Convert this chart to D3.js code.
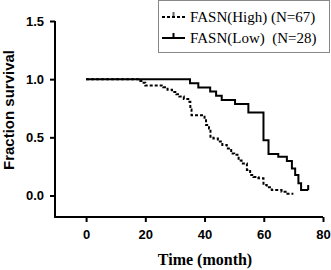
<!DOCTYPE html>
<html>
<head>
<meta charset="utf-8">
<script src="https://cdn.jsdelivr.net/npm/d3@7"></script>
<style>
  body { margin: 0; background: #fff; }
  svg { display: block; }
  .legend text { white-space: pre; }
</style>
</head>
<body>
<svg id="chart" width="331" height="270"></svg>
<script>
// Kaplan-Meier steps
var highTimes = [0, 17.5, 19, 20, 26, 27.5, 29, 30.5, 31.5, 33, 34.5, 35.2, 35.6, 40, 40.5, 41.5, 42, 43, 44.5, 46, 47.5, 49, 50, 51.5, 52.5, 54.3, 55.4, 56.5, 58.2, 59.9, 61, 62.7, 66, 68, 70];
var highSurv  = [1.0, 0.985, 0.97, 0.945, 0.93, 0.91, 0.89, 0.87, 0.85, 0.83, 0.805, 0.74, 0.69, 0.66, 0.605, 0.575, 0.505, 0.49, 0.465, 0.435, 0.405, 0.36, 0.35, 0.30, 0.276, 0.22, 0.176, 0.16, 0.148, 0.09, 0.07, 0.047, 0.033, 0.015, 0.015];
var lowTimes  = [0, 35.1, 37.9, 41.9, 43.9, 45.8, 50.3, 54.8, 59.9, 61.6, 64.9, 67.8, 69.5, 70.6, 71.7, 72.6, 75];
var lowSurv   = [1.0, 0.964, 0.929, 0.893, 0.857, 0.821, 0.786, 0.714, 0.476, 0.357, 0.333, 0.296, 0.233, 0.176, 0.105, 0.047, 0.047];
var lowCensor = [75];

var xTicks = [0, 20, 40, 60, 80];
var yTicks = [0.0, 0.5, 1.0, 1.5];
var legendLabels = ["FASN(High) (N=67)", "FASN(Low)  (N=28)"];

var svg = d3.select("#chart");

var x = d3.scaleLinear().domain([-10.5, 80]).range([55, 323]);
var y = d3.scaleLinear().domain([0, 1.5]).range([195.5, 21]);

// axes
var xAxis = svg.append("g").attr("transform", "translate(0,217)")
  .call(d3.axisBottom(x).tickValues(xTicks).tickSize(5).tickPadding(8).tickFormat(d3.format("d")));
xAxis.select(".domain").attr("d", "M55,0H323");

var yAxis = svg.append("g").attr("transform", "translate(55,0)")
  .call(d3.axisLeft(y).tickValues(yTicks).tickSize(5).tickPadding(6).tickFormat(d3.format(".1f")));
yAxis.select(".domain").attr("d", "M0,21V218");

svg.selectAll(".domain").attr("stroke", "#000").attr("stroke-width", 2);
svg.selectAll(".tick line").attr("stroke", "#000").attr("stroke-width", 2);
svg.selectAll(".tick text")
  .style("font-family", "'Liberation Sans', Arial, sans-serif")
  .style("font-weight", "bold")
  .style("font-size", "13px")
  .attr("fill", "#000");

// titles
svg.append("text")
  .attr("transform", "translate(14,110) rotate(-90)")
  .attr("text-anchor", "middle")
  .style("font-family", "'Liberation Sans', Arial, sans-serif")
  .style("font-weight", "bold")
  .style("font-size", "15px")
  .text("Fraction survival");

svg.append("text")
  .attr("x", 205).attr("y", 265)
  .attr("text-anchor", "middle")
  .style("font-family", "'Liberation Serif', 'Times New Roman', serif")
  .style("font-weight", "bold")
  .style("font-size", "16px")
  .text("Time (month)");

// curves
var line = d3.line()
  .x(function(d){ return x(d[0]); })
  .y(function(d){ return y(d[1]); })
  .curve(d3.curveStepAfter);

svg.append("path")
  .datum(d3.zip(highTimes, highSurv))
  .attr("d", line)
  .attr("fill", "none")
  .attr("stroke", "#000")
  .attr("stroke-width", 2)
  .attr("stroke-dasharray", "3,2");

svg.append("path")
  .datum(d3.zip(lowTimes, lowSurv))
  .attr("d", line)
  .attr("fill", "none")
  .attr("stroke", "#000")
  .attr("stroke-width", 2);

svg.selectAll(".censor").data(lowCensor).enter().append("line")
  .attr("x1", function(d){ return x(d); })
  .attr("x2", function(d){ return x(d); })
  .attr("y1", y(lowSurv[lowSurv.length - 1]) - 5)
  .attr("y2", y(lowSurv[lowSurv.length - 1]))
  .attr("stroke", "#000")
  .attr("stroke-width", 2);

// legend
var lg = svg.append("g").attr("class", "legend");
lg.append("rect")
  .attr("x", 158.5).attr("y", 0.5).attr("width", 171).attr("height", 52)
  .attr("fill", "#fff").attr("stroke", "#888").attr("stroke-width", 1);

var rows = lg.selectAll(".row").data(legendLabels).enter().append("g")
  .attr("transform", function(d, i){ return "translate(0," + (i * 21) + ")"; });

rows.append("line")
  .attr("x1", 162).attr("x2", 185).attr("y1", 17).attr("y2", 17)
  .attr("stroke", "#000").attr("stroke-width", 2)
  .attr("stroke-dasharray", function(d, i){ return i === 0 ? "3,2" : null; });
rows.append("line")
  .attr("x1", 173.5).attr("x2", 173.5).attr("y1", 12).attr("y2", 17)
  .attr("stroke", "#000").attr("stroke-width", 2)
  .attr("opacity", function(d, i){ return i === 0 ? 0.6 : 1; });
rows.append("text")
  .attr("x", 190).attr("y", 22)
  .style("font-family", "'Liberation Serif', 'Times New Roman', serif")
  .style("font-size", "15px")
  .text(function(d){ return d; });
</script>
</body>
</html>
